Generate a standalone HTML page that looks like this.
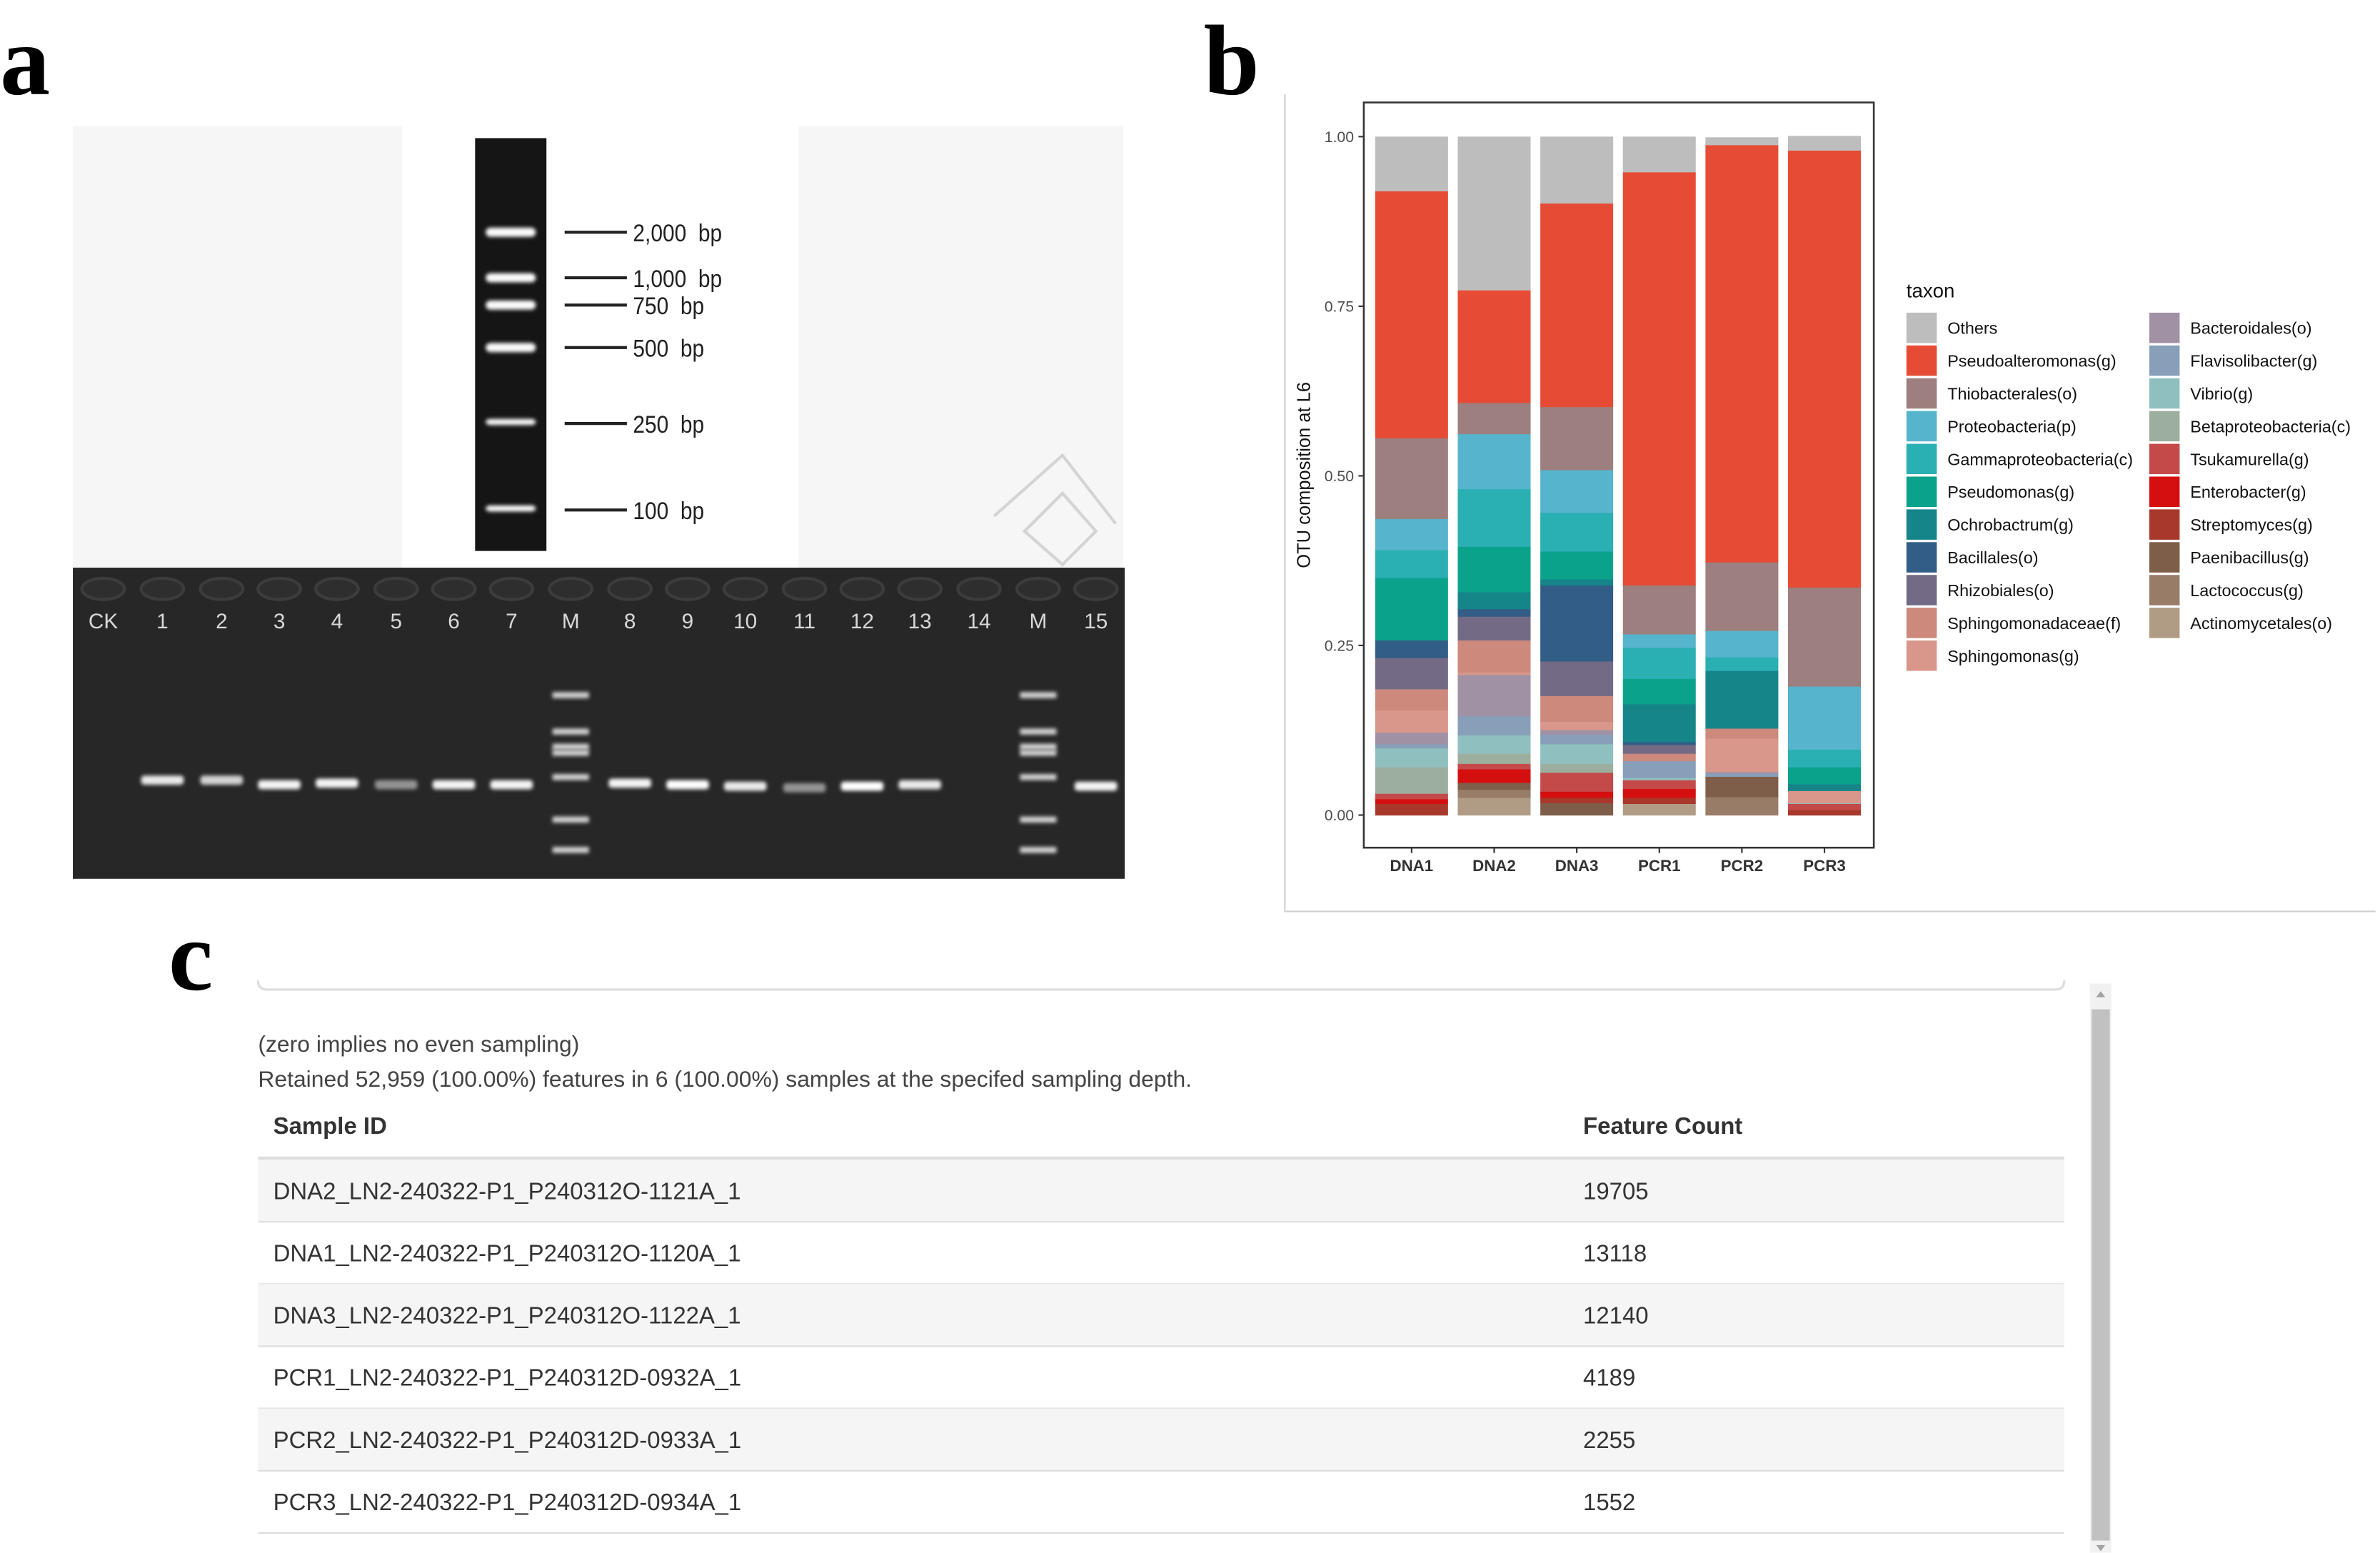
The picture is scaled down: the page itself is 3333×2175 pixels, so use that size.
<!DOCTYPE html>
<html><head><meta charset="utf-8"><style>
html,body{margin:0;padding:0;background:#fff;}
svg{display:block;}
text{font-family:"Liberation Sans",sans-serif;}
</style></head><body>
<svg id="fig" width="3333" height="2175" viewBox="0 0 1568 1023.2" xmlns="http://www.w3.org/2000/svg">
<defs>
<filter id="blur1" x="-50%" y="-100%" width="200%" height="300%"><feGaussianBlur stdDeviation="1.2"/></filter>
<filter id="blur2" x="-50%" y="-100%" width="200%" height="300%"><feGaussianBlur stdDeviation="3"/></filter>
</defs>
<rect width="1568" height="1024" fill="#fff"/>

<!-- Panel a -->
<g>
<text x="0" y="62" font-weight="bold" font-size="66" style="font-family:'Liberation Serif',serif">a</text>
<rect x="48" y="83" width="692" height="291" fill="#f6f6f6"/>
<rect x="265" y="83" width="261" height="291" fill="#ffffff"/>
<rect x="313" y="91" width="47" height="272" fill="#151515"/>
<g id="ladder"></g>
<g stroke="#d4d4d4" stroke-width="2" fill="none">
<path d="M655 340 L700 300 L735 345 M675 350 L700 325 L722 350 L700 372 Z"/>
</g>
<rect x="48" y="374" width="693" height="205" fill="#272727"/>
<g id="gel"></g>
</g>

<!-- Panel b -->
<g>
<text x="793" y="62" font-weight="bold" font-size="66" style="font-family:'Liberation Serif',serif">b</text>
<line x1="846.5" y1="62" x2="846.5" y2="600" stroke="#cfcfcf" stroke-width="1"/>
<line x1="846" y1="600.5" x2="1565" y2="600.5" stroke="#cfcfcf" stroke-width="1"/>
<rect x="898.5" y="67.5" width="336" height="491" fill="#fff" stroke="#333" stroke-width="1.2"/>
<g id="bars"></g>
<g id="yaxis"></g>
<g id="xaxis"></g>
<text transform="translate(863,313) rotate(-90)" text-anchor="middle" font-size="12" fill="#111">OTU composition at L6</text>
<text x="1256" y="196" font-size="13" fill="#111">taxon</text>
<g id="legend"></g>
</g>

<!-- Panel c -->
<g>
<text x="111" y="652" font-weight="bold" font-size="66" style="font-family:'Liberation Serif',serif">c</text>
<path d="M170 646 Q170 652 176 652 L1354 652 Q1360 652 1360 646" fill="none" stroke="#ddd" stroke-width="1.5"/>
<text x="170" y="693" font-size="15" fill="#444">(zero implies no even sampling)</text>
<text x="170" y="716" font-size="15" fill="#444">Retained 52,959 (100.00%) features in 6 (100.00%) samples at the specifed sampling depth.</text>
<g>
<text x="180" y="747" font-size="15.5" font-weight="bold" fill="#333">Sample ID</text>
<text x="1043" y="747" font-size="15.5" font-weight="bold" fill="#333">Feature Count</text>
<line x1="170" y1="763" x2="1360" y2="763" stroke="#ddd" stroke-width="2"/>
<g id="rows"></g>
</g>
<rect x="1377" y="648" width="14" height="375" fill="#f1f1f1"/>
<rect x="1378" y="665" width="12" height="350" fill="#c1c1c1"/>
<path d="M1381 657 L1384 653 L1387 657 Z" fill="#a3a3a3"/>
<path d="M1381 1018 L1384 1022 L1387 1018 Z" fill="#a3a3a3"/>
</g>
</svg>
<script>
const NS="http://www.w3.org/2000/svg";
function mk(tag,attrs,parent){const e=document.createElementNS(NS,tag);for(const k in attrs)e.setAttribute(k,attrs[k]);parent.appendChild(e);return e;}

// ---------- chart data ----------
const samples=["DNA1","DNA2","DNA3","PCR1","PCR2","PCR3"];
const taxa=["Others","Pseudoalteromonas(g)","Thiobacterales(o)","Proteobacteria(p)","Gammaproteobacteria(c)","Pseudomonas(g)","Ochrobactrum(g)","Bacillales(o)","Rhizobiales(o)","Sphingomonadaceae(f)","Sphingomonas(g)","Bacteroidales(o)","Flavisolibacter(g)","Vibrio(g)","Betaproteobacteria(c)","Tsukamurella(g)","Enterobacter(g)","Streptomyces(g)","Paenibacillus(g)","Lactococcus(g)","Actinomycetales(o)"];
const colors=["#bdbdbd","#e64b35","#9c7f7e","#56b4cc","#2aafb3","#0aa28a","#16858a","#325d86","#736a85","#cc897c","#d9968a","#a191a5","#879fb8","#8fc0bf","#9caf9f","#c44a4a","#d50f0f","#a8382c","#7e5e48","#987c68","#b09c85"];
const valDNA1=[0.080,0.364,0.119,0.046,0.041,0.092,0,0.026,0.046,0.031,0.033,0.017,0.006,0.028,0.039,0.008,0.007,0.017,0,0,0];
const valDNA2=[0.226,0.166,0.046,0.081,0.085,0.067,0.025,0.011,0.035,0.047,0.004,0.061,0.028,0.027,0.015,0.008,0.020,0,0.010,0.012,0.026];
const valDNA3=[0.098,0.300,0.093,0.063,0.057,0.041,0.009,0.112,0.051,0.038,0.012,0.007,0.014,0.029,0.013,0.028,0.009,0.008,0.018,0,0];
const valPCR1=[0.052,0.609,0.072,0.020,0.046,0.037,0.056,0.004,0.013,0.011,0,0,0.025,0.003,0,0.013,0.013,0.009,0,0,0.017];
const valPCR2=[0.011,0.615,0.101,0.039,0.020,0,0.085,0,0,0.015,0.049,0.002,0.005,0,0,0,0,0,0.030,0.027,0];
const valPCR3=[0.021,0.644,0.146,0.093,0.026,0.025,0.010,0,0,0,0.018,0,0,0.001,0,0.009,0,0.008,0,0,0];
const values=[valDNA1,valDNA2,valDNA3,valPCR1,valPCR2,valPCR3];
const yTicks=["0.00","0.25","0.50","0.75","1.00"];

const y=v=>537-v*447;
const bandW=54.4, barW=48;
const xc=i=>930+i*bandW;

const gb=document.getElementById('bars');
values.forEach((vals,i)=>{
  let cum=0;
  for(let t=taxa.length-1;t>=0;t--){
    const v=vals[t]; if(v<=0) continue;
    const r=mk('rect',{x:xc(i)-barW/2,y:y(cum+v),width:barW,height:y(cum)-y(cum+v)+0.3,fill:colors[t]},gb);
    
    
    cum+=v;
  }
});
const gy=document.getElementById('yaxis');
yTicks.forEach(s=>{
  const v=parseFloat(s);
  const t=mk('text',{x:892,y:y(v)+3.5,'text-anchor':'end','font-size':10,fill:'#4d4d4d'},gy);
  t.textContent=s;
  
  
  mk('line',{x1:895,x2:898.5,y1:y(v),y2:y(v),stroke:'#333','stroke-width':1},gy);
});
const gx=document.getElementById('xaxis');
samples.forEach((s,i)=>{
  mk('line',{x1:xc(i),x2:xc(i),y1:558.5,y2:562,stroke:'#333','stroke-width':1},gx);
  const t=mk('text',{x:xc(i),y:574,'text-anchor':'middle','font-size':10.5,'font-weight':'bold',fill:'#333'},gx);
  t.textContent=s;
  
  
});
const gl=document.getElementById('legend');
taxa.forEach((n,k)=>{
  const col=k<11?0:1, row=k<11?k:k-11;
  const sx=col?1416:1256, sy=206+row*21.6;
  const r=mk('rect',{x:sx,y:sy,width:20,height:20,fill:colors[k]},gl);
  
  
  const t=mk('text',{x:sx+27,y:sy+14,'font-size':11,fill:'#111'},gl);
  t.textContent=n;
  
  
});

// ---------- gel drawing ----------
const ladderY=[153,183,201,229,279,336];
const ladderLbl=["2,000  bp","1,000  bp","750  bp","500  bp","250  bp","100  bp"];
const gL=document.getElementById('ladder');
ladderY.forEach((yy,k)=>{
  mk('rect',{x:320,y:yy-3,width:33,height:k<4?6:4,rx:3,fill:'#fafafa',filter:'url(#blur1)'},gL);
  mk('line',{x1:372,x2:413,y1:yy,y2:yy,stroke:'#222','stroke-width':2},gL);
  const t=mk('text',{x:417,y:yy+6,'font-size':16,fill:'#222','xml:space':'preserve',transform:`translate(${417*0.12},0) scale(0.88,1)`},gL);
  t.setAttribute('x',417/0.88*1-417*0.12/0.88);
  t.style.whiteSpace='pre';
  t.textContent=ladderLbl[k];
  
  
});
const lanes=["CK","1","2","3","4","5","6","7","M","8","9","10","11","12","13","14","M","15"];
const laneX=[68,107,146,184,222,261,299,337,376,415,453,491,530,568,606,645,684,722];
const bandY=[0,514,514,517,516,517,517,517,0,516,517,518,519,518,517,0,0,518];
const bandI=[0,0.9,0.8,0.95,0.95,0.5,0.95,0.95,0,0.95,1,0.9,0.5,1,0.9,0,0,0.95];
const markerY=[458,482,492,496,512,540,560];
const gG=document.getElementById('gel');
lanes.forEach((l,i)=>{
  mk('ellipse',{cx:laneX[i],cy:388,rx:14,ry:7,fill:'#2e2e2e',stroke:'#3c3c3c','stroke-width':2},gG);
  const t=mk('text',{x:laneX[i],y:414,'text-anchor':'middle','font-size':14,fill:'#d8d8d8'},gG);
  t.textContent=l;
  
  
  if(l==="M"){
    markerY.forEach(my=>mk('rect',{x:laneX[i]-12,y:my-2,width:24,height:4,fill:'#d0d0d0',filter:'url(#blur1)'},gG));
  } else if(bandI[i]>0){
    mk('rect',{x:laneX[i]-14,y:bandY[i]-3,width:28,height:6,rx:2,fill:'#fff',opacity:bandI[i],filter:'url(#blur1)'},gG);
  }
});

// ---------- table ----------
const ids=["DNA2_LN2-240322-P1_P240312O-1121A_1","DNA1_LN2-240322-P1_P240312O-1120A_1","DNA3_LN2-240322-P1_P240312O-1122A_1","PCR1_LN2-240322-P1_P240312D-0932A_1","PCR2_LN2-240322-P1_P240312D-0933A_1","PCR3_LN2-240322-P1_P240312D-0934A_1"];
const counts=["19705","13118","12140","4189","2255","1552"];
const gR=document.getElementById('rows');
ids.forEach((id,i)=>{
  const top=764+i*41;
  const g=mk('g',{},gR);
  
  
  if(i%2===0) mk('rect',{x:170,y:top,width:1190,height:41,fill:'#f5f5f5'},g);
  mk('line',{x1:170,x2:1360,y1:top+41,y2:top+41,stroke:'#ddd','stroke-width':1},g);
  const a=mk('text',{x:180,y:top+26,'font-size':15.5,fill:'#333'},g);a.textContent=id;
  const b=mk('text',{x:1043,y:top+26,'font-size':15.5,fill:'#333'},g);b.textContent=counts[i];
});
</script>
</body></html>
